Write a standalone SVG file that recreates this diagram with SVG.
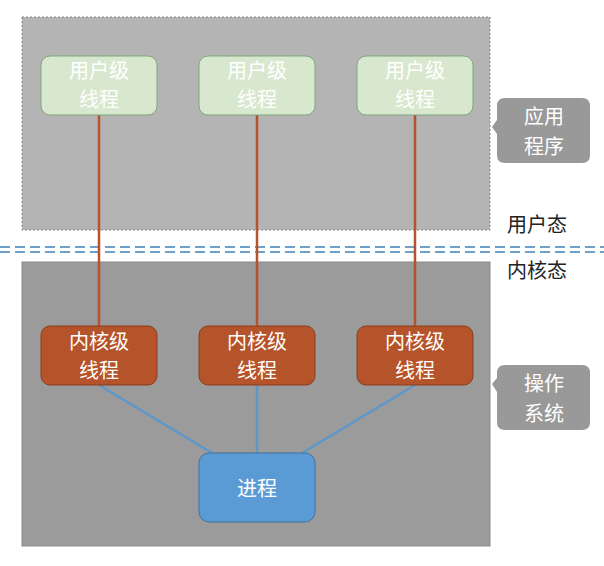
<svg xmlns="http://www.w3.org/2000/svg" width="604" height="566" viewBox="0 0 604 566">
<style>
text{font-family:"Noto Sans CJK SC","Noto Sans",sans-serif;font-size:20px;text-anchor:middle}
.u rect{fill:#d8e8cf;stroke:#7fa87a;stroke-width:1}
.u text{fill:#fff}
.k rect{fill:#b5532a;stroke:#8a3c1c;stroke-width:1}
.k text{fill:#fff}
.c path{fill:#999}
.c text{fill:#fff}
.lbl{fill:#222;font-size:20px}
</style>
<rect width="604" height="566" fill="#fff"/>
<rect x="22" y="17" width="468" height="213" fill="#b4b4b4" stroke="#888" stroke-dasharray="2,2"/>
<rect x="22" y="262" width="468" height="284" fill="#9b9b9b" stroke="#8a8a8a"/>
<g stroke="#6fa0cc" stroke-width="2" stroke-dasharray="10,5">
<line x1="0" y1="247" x2="604" y2="247"/>
<line x1="0" y1="252" x2="604" y2="252"/>
</g>
<g id="connectors">
<g stroke="#b5532a" stroke-width="2.5">
<line x1="99" y1="115" x2="99" y2="326"/>
<line x1="257" y1="115" x2="257" y2="326"/>
<line x1="415" y1="115" x2="415" y2="326"/>
</g>
<g stroke="#5f97c9" stroke-width="2.5">
<line x1="99" y1="385" x2="212" y2="453"/>
<line x1="257" y1="385" x2="257" y2="453"/>
<line x1="415" y1="385" x2="302" y2="453"/>
</g>
</g>
<g id="u1" class="u"><rect x="41" y="56" width="116" height="59" rx="9"/><text x="99" y="78">用户级</text><text x="99" y="107">线程</text></g>
<g id="u2" class="u"><rect x="199" y="56" width="116" height="59" rx="9"/><text x="257" y="78">用户级</text><text x="257" y="107">线程</text></g>
<g id="u3" class="u"><rect x="357" y="56" width="116" height="59" rx="9"/><text x="415" y="78">用户级</text><text x="415" y="107">线程</text></g>
<g id="k1" class="k"><rect x="41" y="326" width="116" height="59" rx="9"/><text x="99" y="349">内核级</text><text x="99" y="378">线程</text></g>
<g id="k2" class="k"><rect x="199" y="326" width="116" height="59" rx="9"/><text x="257" y="349">内核级</text><text x="257" y="378">线程</text></g>
<g id="k3" class="k"><rect x="357" y="326" width="116" height="59" rx="9"/><text x="415" y="349">内核级</text><text x="415" y="378">线程</text></g>
<g id="proc"><rect x="199" y="453" width="116" height="69" rx="10" fill="#5b9bd5" stroke="#41719c"/><text x="257" y="496" fill="#fff">进程</text></g>
<g id="app" class="c"><path d="M505,98 H582 Q590,98 590,106 V155 Q590,163 582,163 H505 Q497,163 497,155 V134 L492,127 L497,120 V106 Q497,98 505,98 Z"/><text x="544" y="124">应用</text><text x="544" y="154">程序</text></g>
<g id="os" class="c"><path d="M505,365 H582 Q590,365 590,373 V422 Q590,430 582,430 H505 Q497,430 497,422 V392 L492,384 L497,378 V373 Q497,365 505,365 Z"/><text x="544" y="391">操作</text><text x="544" y="421">系统</text></g>
<text class="lbl" x="537" y="232">用户态</text>
<text class="lbl" x="537" y="278">内核态</text>
</svg>
